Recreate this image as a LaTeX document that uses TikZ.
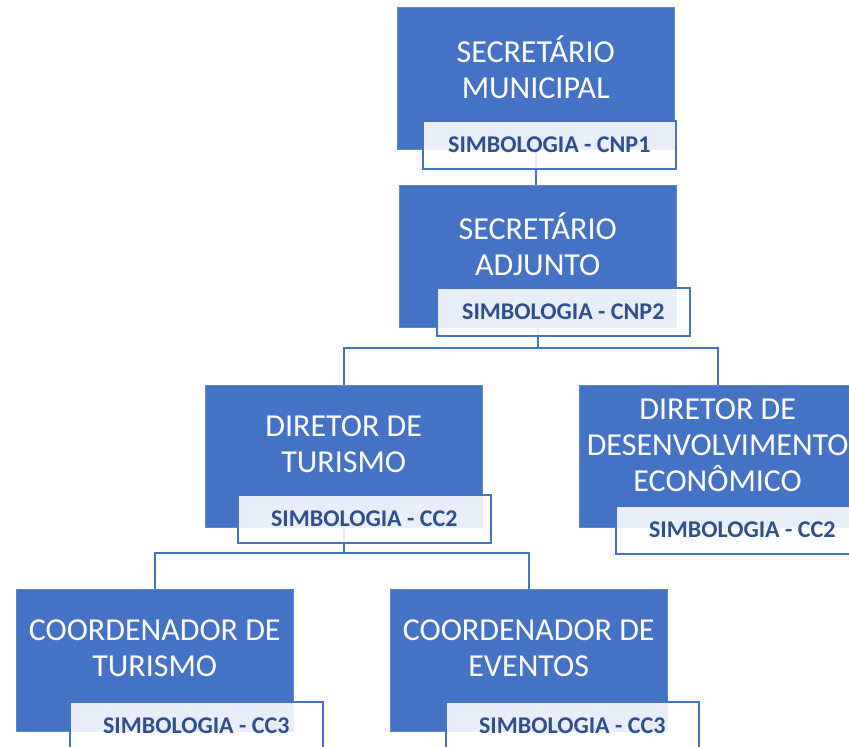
\documentclass[tikz,border=0pt]{standalone}
\usepackage{fontspec}
\setmainfont{Carlito}
\usetikzlibrary{positioning}
\definecolor{cargo}{HTML}{4472C4}
\definecolor{simbtxt}{HTML}{2F4F8F}

\begin{document}
\begin{tikzpicture}[x=1pt, y=-1pt,
  cargo/.style = {fill=cargo, draw=cargo!85!white, minimum width=277pt, minimum height=142pt, anchor=north west, inner sep=0pt},
  nome/.style = {text=white, align=center, font=\fontsize{32}{36}\selectfont},
  simb/.style = {draw=cargo, line width=1.6pt, fill=white, fill opacity=0.88, text opacity=1, text=simbtxt, minimum width=253pt, minimum height=48pt, inner sep=0pt, font=\bfseries\fontsize{24}{28}\selectfont},
  liga/.style = {draw=cargo, line width=2pt}]
\clip (0,0) rectangle (849,747);
\node[cargo] (sm) at (397,7) {};
\node[cargo] (sa) at (399,185) {};
\node[cargo] (dt) at (205,385) {};
\node[cargo] (dd) at (579,385) {};
\node[cargo] (ct) at (16,589) {};
\node[cargo] (ce) at (390,589) {};
\node[nome] (smt) at ([yshift=-60pt]sm.north) {SECRETÁRIO\\MUNICIPAL};
\node[nome] (sat) at ([yshift=-59pt]sa.north) {SECRETÁRIO\\ADJUNTO};
\node[nome] (dtt) at ([yshift=-59pt]dt.north) {DIRETOR DE\\TURISMO};
\node[nome] (ddt) at ([yshift=-60pt]dd.north) {DIRETOR DE\\DESENVOLVIMENTO\\ECONÔMICO};
\node[nome] (ctt) at ([yshift=-59pt]ct.north) {COORDENADOR DE\\TURISMO};
\node[nome] (cet) at ([yshift=-59pt]ce.north) {COORDENADOR DE\\EVENTOS};
% ligacoes
\coordinate (j1) at ([yshift=-21pt]sa.south);
\coordinate (j2) at ([yshift=-26pt]dt.south);
\draw[liga] (sm.south) -- (sm.south |- sa.north);
\draw[liga] (sa.south) -- (j1) -| (dt.north);
\draw[liga] (j1) -| (dd.north);
\draw[liga] (dt.south) -- (j2) -| (ct.north);
\draw[liga] (j2) -| (ce.north);
% simbologias
\node[simb, below right=113pt and 25pt of sm.north west] (smS) {SIMBOLOGIA - CNP1};
\node[simb, below right=102pt and 37pt of sa.north west] (saS) {SIMBOLOGIA - CNP2};
\node[simb, below right=109pt and 32pt of dt.north west] (dtS) {SIMBOLOGIA - CC2};
\node[simb, below right=120pt and 36pt of dd.north west] (ddS) {SIMBOLOGIA - CC2};
\node[simb, below right=112pt and 53pt of ct.north west] (ctS) {SIMBOLOGIA - CC3};
\node[simb, below right=112pt and 55pt of ce.north west] (ceS) {SIMBOLOGIA - CC3};
\end{tikzpicture}
\end{document}
